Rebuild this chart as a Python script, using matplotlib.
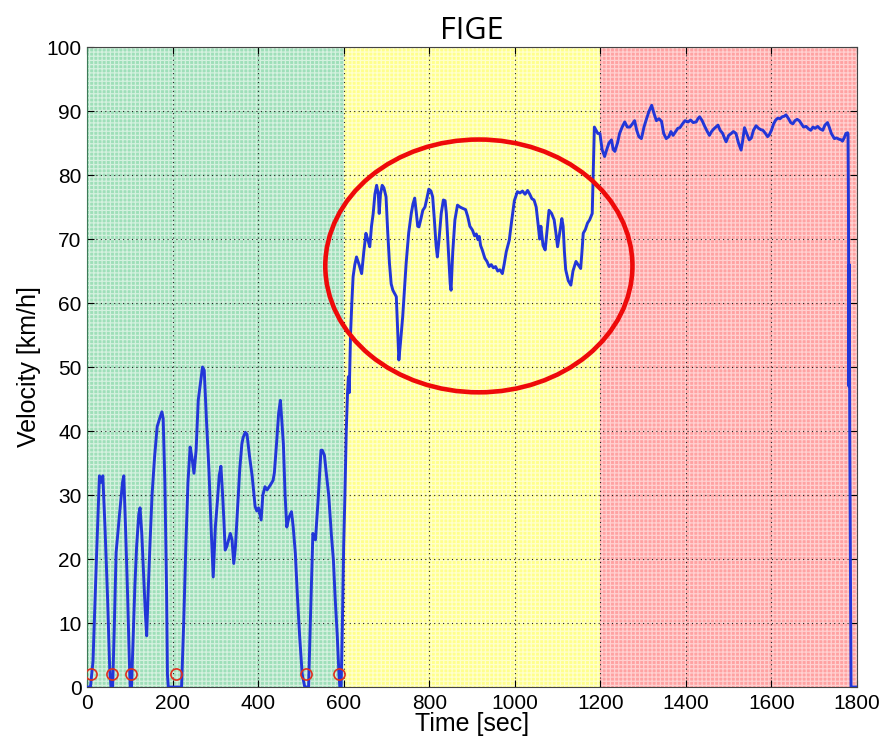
import matplotlib
matplotlib.use('Agg')
import matplotlib.pyplot as plt
from matplotlib.patches import Ellipse
import numpy as np

# FIGE velocity trace (time [s], speed [km/h])
time_urban = [0, 8, 14, 22, 29, 33, 37, 42, 48, 53, 56, 60, 64, 68, 76, 83, 86, 90, 95, 99,
              101, 104, 108, 112, 116, 121, 124, 128, 132, 136, 139.5, 143, 147, 152, 158, 164,
              170, 175, 178, 182, 186, 188, 190, 221, 226, 231, 236, 241, 245, 250, 255, 260,
              266, 270, 274, 279, 285, 290, 295, 300, 305, 309, 313, 317, 320, 323, 327, 331,
              335, 339, 343, 347, 352, 357, 362, 365, 370, 374, 380, 386, 393, 397, 401, 407,
              411, 416, 421, 428, 435, 438, 443, 448, 452, 455, 459, 463, 467, 472, 478, 482,
              487, 492, 497, 503, 509, 518, 522, 528, 534, 540, 547, 550, 555, 560, 565, 571,
              576, 580, 585, 589, 591, 594, 597, 600, 603, 606, 609]
speed_urban = [0, 0, 4, 20, 33, 32, 33, 25, 14, 3, 0, 0, 10, 21, 27, 32, 33, 25, 14, 4,
               0, 0, 8, 16, 22, 27, 28, 24, 18, 12, 8, 15, 22, 30, 36, 40.7,
               42, 43, 42, 32, 15, 2, 0, 0, 10, 22, 32, 37.5, 36, 33.4, 37, 44.8,
               48, 50, 49.5, 42, 33.9, 25, 17.2, 25, 29.2, 33, 34.5, 30, 26, 21.4, 22, 23,
               24, 23, 19.3, 22, 28, 34, 38, 39, 39.8, 39.5, 36, 33, 28.2, 27.5, 28, 26.1,
               30, 31.3, 30.8, 31.5, 32.3, 33.5, 38, 42.8, 44.8, 42, 38, 30, 25, 26.5, 27.4, 25,
               20.9, 14, 8, 2, 0, 0, 10, 24, 23, 29, 37, 37, 36.2, 33, 30, 24,
               19.8, 14, 8, 2, 0, 0, 10, 22, 30.3, 40, 46]

time_rural = [611, 613, 616, 619, 622, 626, 630, 636, 642, 647, 652, 656, 661, 665, 669, 673,
              677, 681, 683, 686, 690, 694, 699, 703, 707, 711, 715, 719, 723, 726, 729, 733,
              738, 742, 746, 752, 758, 762, 766, 770, 773, 776, 780, 785, 790, 795, 799, 804,
              808, 812, 816, 819, 823, 828, 833, 837, 840, 845, 849, 851, 855, 860, 866, 872,
              878, 885, 890, 895, 901, 906, 910, 914, 917, 920, 924, 930, 935, 940, 945, 950,
              955, 960, 965, 971, 975, 980, 987, 993, 999, 1006, 1012, 1018, 1024, 1030, 1035,
              1040, 1045, 1050, 1055, 1058, 1061, 1066, 1071, 1075, 1080, 1086, 1092, 1096,
              1100, 1105, 1110, 1113, 1116, 1119, 1125, 1131, 1136, 1143, 1148, 1154, 1157,
              1160, 1165, 1170, 1175, 1181, 1186]
speed_rural = [48.5, 46, 55, 60, 64.1, 66, 67.2, 66, 64.6, 68, 70.9, 70, 68.8, 72, 74, 77,
               78.4, 77, 74, 77, 78.4, 78, 76.6, 71, 66.2, 63, 62, 61.5, 61, 56, 51.1, 54,
               57.9, 62, 66.2, 71, 74, 75.5, 76.4, 74, 72, 71.9, 73, 74.5, 75, 76.5, 77.8, 77.5,
               76.6, 73, 69, 67.2, 70, 74, 76.1, 76, 74, 68, 63, 62, 68, 73, 75.3, 75,
               74.8, 74.6, 73.5, 72, 71.4, 70.5, 70.8, 69.9, 70.4, 69, 68.3, 67, 66.5, 65.7, 66, 65.5,
               65.7, 65, 65.2, 64.6, 66, 68, 69.8, 73, 76, 77.4, 77.2, 77.5, 77, 77.6, 77,
               76.3, 76.1, 75, 72, 70, 72, 69, 68.3, 71, 74.5, 74, 73, 71,
               68.8, 71, 73.2, 72, 68, 65.2, 63.5, 62.8, 65, 66.5, 66, 65.4, 68,
               70.9, 71.5, 72.5, 73, 74, 87.5]

time_motorway = [1190, 1194, 1199, 1204, 1210, 1215, 1220, 1226, 1230, 1234, 1240, 1245, 1251,
                 1257, 1263, 1269, 1275, 1280, 1285, 1290, 1296, 1302, 1308, 1314, 1320, 1326,
                 1331, 1337, 1343, 1348, 1354, 1360, 1365, 1370, 1376, 1381, 1386, 1392, 1398,
                 1405, 1411, 1417, 1424, 1428, 1432, 1438, 1444, 1450, 1455, 1460, 1465, 1470,
                 1475, 1480, 1486, 1490, 1494, 1500, 1506, 1511, 1517, 1523, 1529, 1533, 1537,
                 1542, 1548, 1553, 1558, 1564, 1570, 1575, 1580, 1586, 1591, 1595, 1600, 1605,
                 1610, 1615, 1620, 1625, 1630, 1634, 1640, 1645, 1650, 1655, 1660, 1665, 1670,
                 1675, 1681, 1687, 1692, 1697, 1702, 1708, 1714, 1720, 1725, 1731, 1735, 1740,
                 1747, 1752, 1758, 1763, 1766, 1770, 1774, 1778, 1779, 1780, 1781, 1782, 1783,
                 1784, 1785, 1786, 1800]
speed_motorway = [87, 86.5, 86.5, 84, 82.9, 84, 85, 85.5, 84, 83.7, 85, 86.5, 87.5,
                  88.3, 87.5, 87.5, 88, 88.5, 87, 86, 85.7, 87.5, 88.8, 90, 90.9, 89.5,
                  88.5, 88.8, 88.4, 86.5, 85.7, 86, 86.8, 86.2, 86.8, 87.3, 87.4, 88, 88.5,
                  88.3, 88.6, 88.2, 88.3, 88.8, 89.1, 88.5, 87.6, 86.8, 86.2, 86.8, 87.2, 87.5,
                  87.8, 87, 86.5, 85.8, 85.2, 86.2, 86.5, 86.8, 86.5, 85, 83.9, 85.5, 87.4,
                  86.5, 85.5, 85.8, 87, 87.7, 87.3, 87.1, 87, 86.5, 86, 86.3, 87, 88,
                  88.6, 88.9, 88.8, 89.1, 89.2, 89.4, 88.8, 88.2, 88, 88.5, 88.7, 88.5, 88,
                  87.5, 87.6, 87.2, 87, 87.5, 87.3, 87.6, 87.2, 87, 87.8, 88.2, 87.5, 86.5,
                  85.7, 85.8, 85.6, 85.5, 85.3, 85.8, 86.5, 86.6, 86.4, 75, 47, 66, 40,
                  28, 13, 0, 0]

# stop markers
stop_times = [9, 58, 102, 208, 511, 589]
stop_speeds = [2, 2, 2, 2, 2, 2]

# phases: start, end, colour
phase_edges = [0, 600, 1200, 1800]
phase_colors = ['#9edfb9', '#ffff8c', '#ffa2a2']
phase_hatch = ['#d4f1df', '#ffffcc', '#ffd0d0']

time = time_urban + time_rural + time_motorway
speed = speed_urban + speed_rural + speed_motorway

plt.rcParams['font.family'] = ['Liberation Sans', 'DejaVu Sans']
plt.rcParams['hatch.linewidth'] = 0.9

fig = plt.figure(figsize=(8.87, 7.47), dpi=100)
ax = fig.add_axes((0.0981, 0.0803, 0.8681, 0.8567))

# Background phase bands with fine checker pattern
for i in range(3):
    ax.axvspan(phase_edges[i], phase_edges[i + 1], facecolor=phase_colors[i],
               edgecolor=phase_hatch[i], hatch='++++', lw=0, zorder=0)

ax.plot(time, speed, color='#2236d8', lw=2.1, zorder=3)
ax.plot(stop_times, stop_speeds, 'o', ms=8, mfc='none', mec='#e0301e', mew=1.2, zorder=4)

# Highlight the rural part
ax.add_patch(Ellipse((916, 65.8), 718, 39.5, fill=False, ec='#ee0a0a', lw=3.3, zorder=5))

ax.set_xlim(0, 1800)
ax.set_ylim(0, 100)
ax.set_xticks(range(0, 1801, 200))
ax.set_yticks(range(0, 101, 10))
ax.tick_params(direction='in', top=True, right=True, length=5, labelsize=15, pad=5)
ax.tick_params(axis='y', pad=4)
ax.grid(True, color='#222222', linestyle=(0, (1, 3)), lw=0.8)
for s in ax.spines.values():
    s.set_color('#444444')
ax.spines['left'].set_color('#3d7a58')

ax.set_xlabel('Time [sec]', fontsize=18, labelpad=-1)
ax.set_ylabel('Velocity [km/h]', fontsize=18, labelpad=4)
ax.set_title('FIGE', fontsize=22, family=['Open Sans', 'DejaVu Sans'], pad=6)

fig.savefig('out.png', dpi=100)
